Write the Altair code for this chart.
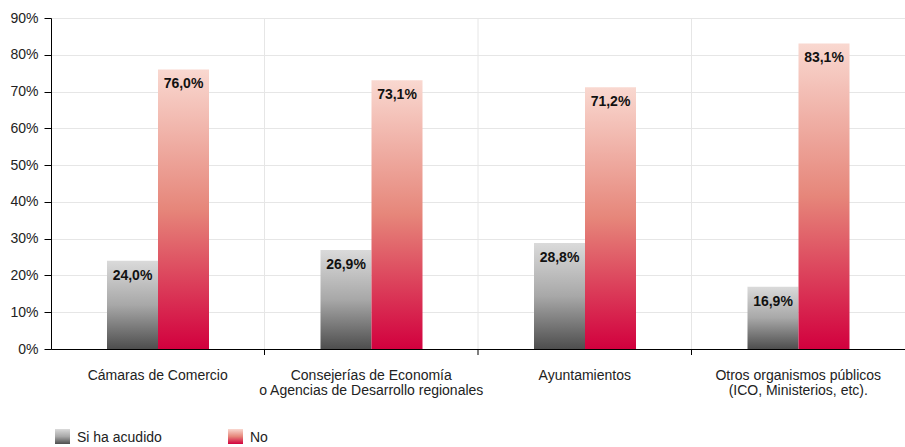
import altair as alt
import pandas as pd

categories = [
    "Cámaras de Comercio",
    "Consejerías de Economía\no Agencias de Desarrollo regionales",
    "Ayuntamientos",
    "Otros organismos públicos\n(ICO, Ministerios, etc).",
]
series = ["Si ha acudido", "No"]
si_values = [24.0, 26.9, 28.8, 16.9]
no_values = [76.0, 73.1, 71.2, 83.1]
y_ticks = [0, 10, 20, 30, 40, 50, 60, 70, 80, 90]

rows = []
for c, s, n in zip(categories, si_values, no_values):
    rows.append({"cat": c, "serie": series[0], "value": s})
    rows.append({"cat": c, "serie": series[1], "value": n})
df = pd.DataFrame(rows)

FONT = "Liberation Sans"
W = 854
BAND = W / len(categories)

grad_gray = {
    "gradient": "linear", "x1": 0, "y1": 0, "x2": 0, "y2": 1,
    "stops": [
        {"offset": 0, "color": "#dadada"},
        {"offset": 0.5, "color": "#a8a8a8"},
        {"offset": 1, "color": "#4e4e4e"},
    ],
}
grad_red = {
    "gradient": "linear", "x1": 0, "y1": 0, "x2": 0, "y2": 1,
    "stops": [
        {"offset": 0, "color": "#f9d8d0"},
        {"offset": 0.5, "color": "#e6867a"},
        {"offset": 1, "color": "#d2003e"},
    ],
}

x_axis = alt.Axis(
    title=None,
    labelAngle=0,
    ticks=False,
    domain=True,
    domainColor="#000000",
    grid=False,
    labelExpr="split(datum.label, '\\n')",
    labelPadding=19,
    labelFontSize=14,
    labelLineHeight=15,
    labelFont=FONT,
    labelColor="#222222",
    labelLimit=0,
    labelFlush=False,
    labelAlign="center",
)
x_enc = alt.X(
    "cat:N",
    sort=categories,
    scale=alt.Scale(paddingInner=0, paddingOuter=0),
    axis=x_axis,
)
xoff = alt.XOffset(
    "serie:N", sort=series, scale=alt.Scale(range=[56, 158], paddingInner=0, paddingOuter=0)
)
y_axis = alt.Axis(
    title=None,
    values=y_ticks,
    labelExpr="datum.value + '%'",
    grid=True,
    gridColor="#e6e6e6",
    domainColor="#000000",
    tickColor="#000000",
    tickSize=7,
    labelPadding=6,
    labelFontSize=14,
    labelFont=FONT,
    labelColor="#222222",
)
y_enc = alt.Y("value:Q", scale=alt.Scale(domain=[0, 90], nice=False), axis=y_axis)

base = alt.Chart(df)

cat_df = pd.DataFrame({"cat": categories[1:]})
vgrid = alt.Chart(cat_df).mark_rule(
    color="#e6e6e6", strokeWidth=1, xOffset=-BAND / 2
).encode(
    x=x_enc,
    y=alt.value(0),
    y2=alt.value(331),
)
xticks = alt.Chart(cat_df).mark_rule(
    color="#000000", strokeWidth=1, xOffset=-BAND / 2
).encode(
    x=x_enc,
    y=alt.value(331),
    y2=alt.value(337),
)

bars = base.mark_bar().encode(
    x=x_enc,
    xOffset=xoff,
    y=y_enc,
    fill=alt.condition(
        alt.datum.serie == series[0], alt.value(grad_gray), alt.value(grad_red)
    ),
)

labels = base.transform_calculate(
    lab="replace(format(datum.value, '.1f'), '.', ',') + '%'"
).mark_text(
    baseline="top", dy=8, fontSize=14, fontWeight="bold", font=FONT, color="#111111"
).encode(
    x=x_enc,
    xOffset=xoff,
    y=y_enc,
    text="lab:N",
)

one = alt.Data(values=[{"k": 1}])
leg_rect1 = alt.Chart(one).mark_rect(fill=grad_gray).encode(
    x=alt.value(4), x2=alt.value(19), y=alt.value(411), y2=alt.value(426)
)
leg_rect2 = alt.Chart(one).mark_rect(fill=grad_red).encode(
    x=alt.value(177), x2=alt.value(192), y=alt.value(411), y2=alt.value(426)
)
leg_text1 = alt.Chart(one).mark_text(
    align="left", baseline="middle", fontSize=14, font=FONT, color="#222222",
    text=series[0],
).encode(x=alt.value(26), y=alt.value(420))
leg_text2 = alt.Chart(one).mark_text(
    align="left", baseline="middle", fontSize=14, font=FONT, color="#222222",
    text=series[1],
).encode(x=alt.value(199), y=alt.value(420))

chart = alt.layer(
    bars, vgrid, labels, xticks, leg_rect1, leg_rect2, leg_text1, leg_text2
).properties(
    width=W,
    height=331,
    autosize=alt.AutoSizeParams(type="none"),
    padding={"left": 51, "top": 18, "right": 0, "bottom": 98},
).configure_view(stroke=None).configure(background="white")

chart.save("out.html", embed_options={"renderer": "svg", "actions": False})
